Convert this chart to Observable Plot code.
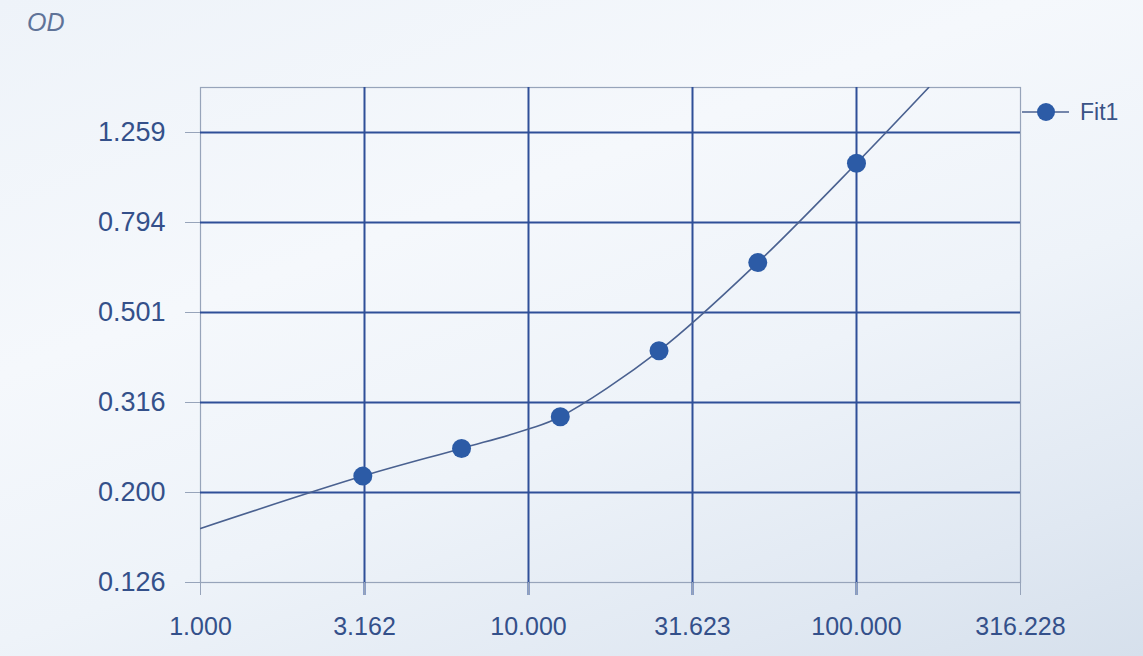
<!DOCTYPE html>
<html>
<head>
<meta charset="utf-8">
<script src="https://cdn.jsdelivr.net/npm/d3@7"></script>
<script src="https://cdn.jsdelivr.net/npm/@observablehq/plot@0.6"></script>
<style>
  html, body { margin: 0; padding: 0; }
  body {
    width: 1143px; height: 656px; overflow: hidden;
    background: linear-gradient(160deg, #eef3f9 0%, #f5f8fc 35%, #eef3f9 60%, #e0e8f2 85%, #d6e0ec 100%);
    font-family: "Liberation Sans", Arial, sans-serif;
  }
  #wrap { position: relative; width: 1143px; height: 656px; }
  #od { position: absolute; left: 27px; top: 8px; font-size: 25px; font-style: italic; color: #5f7398; }
  #legend { position: absolute; left: 1022px; top: 97px; display: flex; align-items: center; }
  #legend span { font-size: 23px; color: #3a5386; margin-left: 8px; }
</style>
</head>
<body>
<div id="wrap">
  <div id="chart"></div>
  <div id="od">OD</div>
  <div id="legend">
    <svg width="50" height="30"><line x1="0" y1="15" x2="47" y2="15" stroke="#4a6190" stroke-width="1.6"/><circle cx="24" cy="15" r="9" fill="#2c5ba6"/></svg>
    <span>Fit1</span>
  </div>
</div>
<script>
// Tick values / labels
const xTicks = [1, 3.16228, 10, 31.6228, 100, 316.228];
const yTicks = [0.125893, 0.199526, 0.316228, 0.501187, 0.794328, 1.258925];
const yTop = 1.584893;

// Measured standards (concentration vs OD)
const ptX = [3.125, 6.25, 12.5, 25, 50, 100];
const ptY = [0.217, 0.250, 0.294, 0.412, 0.647, 1.076];

// Fit curve
const fitX = [1, 3.125, 6.25, 10, 12.5, 25, 50, 100, 166];
const fitY = [0.166, 0.217, 0.250, 0.276, 0.294, 0.412, 0.647, 1.076, 1.585];

const points = ptX.map((x, i) => ({x, y: ptY[i]}));
const fit = fitX.map((x, i) => ({x, y: fitY[i]}));

const gridColor = "#2f4f98";
const frameColor = "#97a4ba";
const textColor = "#34508a";

const chart = Plot.plot({
  width: 1143,
  height: 656,
  marginLeft: 200,
  marginRight: 123,
  marginTop: 87,
  marginBottom: 74,
  style: {background: "transparent", fontFamily: "Liberation Sans, Arial, sans-serif", fontSize: "25px", overflow: "visible"},
  x: {type: "log", domain: [xTicks[0], xTicks[xTicks.length - 1]]},
  y: {type: "log", domain: [yTicks[0], yTop]},
  marks: [
    Plot.frame({stroke: frameColor, strokeWidth: 1.2}),
    Plot.ruleY(yTicks.slice(1), {stroke: gridColor, strokeWidth: 2}),
    Plot.ruleX(xTicks.slice(1, -1), {stroke: gridColor, strokeWidth: 2, insetBottom: -13}),
    Plot.axisX(xTicks, {tickSize: 13, tickPadding: 22, tickFormat: d => d.toFixed(3), stroke: frameColor, fill: textColor, label: null, fontSize: 25}),
    Plot.axisY(yTicks, {tickSize: 15, tickPadding: 20, tickFormat: d => d.toFixed(3), stroke: frameColor, fill: textColor, label: null, fontSize: 27}),
    Plot.line(fit, {x: "x", y: "y", curve: "catmull-rom", stroke: "#4a6190", strokeWidth: 1.6, clip: true}),
    Plot.dot(points, {x: "x", y: "y", r: 9.5, fill: "#2c5ba6"})
  ]
});
document.getElementById("chart").appendChild(chart);
</script>
</body>
</html>
